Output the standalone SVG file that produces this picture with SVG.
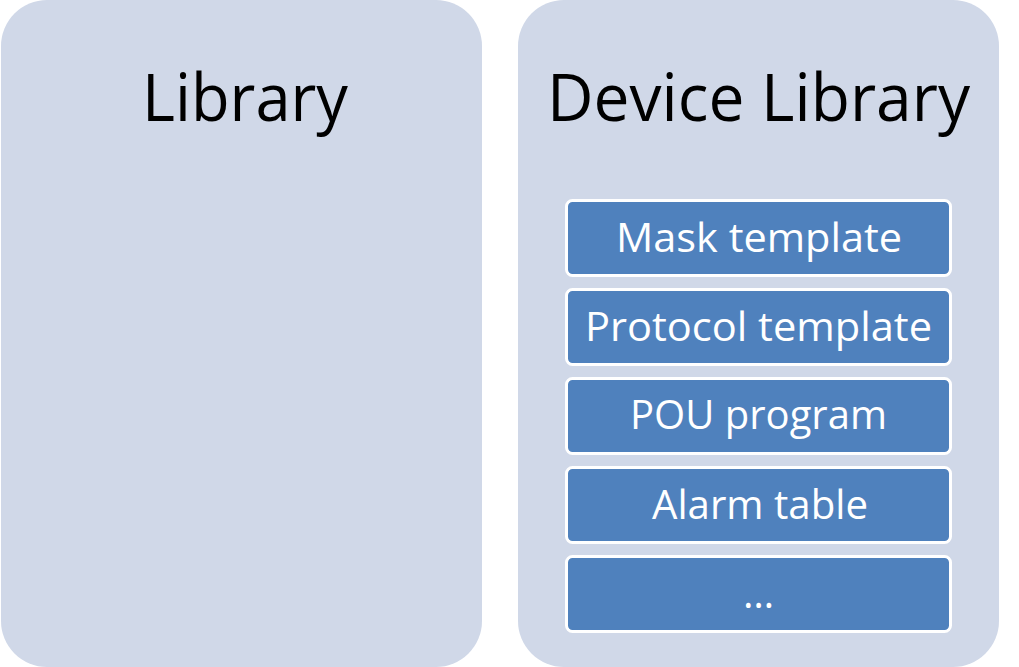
<svg xmlns="http://www.w3.org/2000/svg" width="1019" height="667" viewBox="0 0 1019 667">
<style>
.panel{fill:#D0D8E8;}
.item{fill:#4F81BD;stroke:#FFFFFF;stroke-width:3;}
.title{font-family:"Open Sans","Liberation Sans",sans-serif;font-size:66px;fill:#000000;text-anchor:middle;}
.label{font-family:"Open Sans","Liberation Sans",sans-serif;font-size:40px;fill:#FFFFFF;text-anchor:middle;}
</style>
<rect width="1019" height="667" fill="#FFFFFF"/>
<g id="library">
<rect class="panel" x="1" y="0" width="481" height="667" rx="46" ry="46"/>
<text class="title" x="245" y="121" textLength="206" lengthAdjust="spacingAndGlyphs">Library</text>
</g>
<g id="device-library">
<rect class="panel" x="518" y="0" width="481" height="667" rx="46" ry="46"/>
<text class="title" x="758.5" y="121" textLength="423" lengthAdjust="spacingAndGlyphs">Device Library</text>
</g>
<g id="mask-template">
<rect class="item" x="566.5" y="200.5" width="384" height="75" rx="6" ry="6"/>
<text class="label" x="759" y="252" textLength="286" lengthAdjust="spacingAndGlyphs">Mask template</text>
</g>
<g id="protocol-template">
<rect class="item" x="566.5" y="289.5" width="384" height="75" rx="6" ry="6"/>
<text class="label" x="758.5" y="341" textLength="347" lengthAdjust="spacingAndGlyphs">Protocol template</text>
</g>
<g id="pou-program">
<rect class="item" x="566.5" y="378.5" width="384" height="75" rx="6" ry="6"/>
<text class="label" x="758.5" y="429" textLength="257" lengthAdjust="spacingAndGlyphs">POU program</text>
</g>
<g id="alarm-table">
<rect class="item" x="566.5" y="467.5" width="384" height="75" rx="6" ry="6"/>
<text class="label" x="760" y="519" textLength="216" lengthAdjust="spacingAndGlyphs">Alarm table</text>
</g>
<g id="more">
<rect class="item" x="566.5" y="556.5" width="384" height="75" rx="6" ry="6"/>
<text class="label" x="758.5" y="608">…</text>
</g>
<g id="connectors"></g>
</svg>
